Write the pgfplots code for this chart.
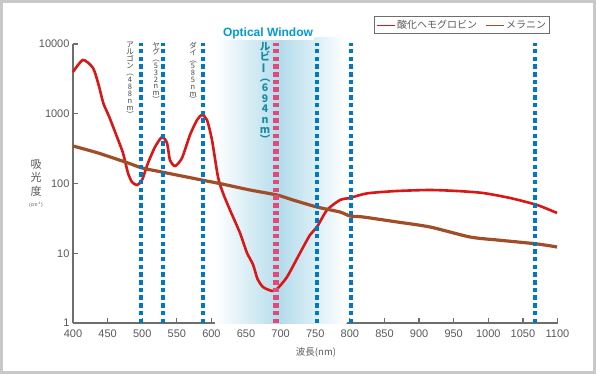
\documentclass[border=0pt]{standalone}
\usepackage{fontspec}
\setmainfont{Liberation Sans}
\newfontfamily\jp{Noto Sans CJK JP}
\usepackage{graphicx}
\usepackage{pgfplots}
\pgfplotsset{compat=1.18}

\definecolor{oxy}{RGB}{218,22,22}
\definecolor{mel}{RGB}{160,78,40}
\definecolor{lblue}{RGB}{0,120,200}
\definecolor{lpink}{RGB}{226,72,122}
\definecolor{owblue}{RGB}{180,220,235}
\definecolor{owtext}{RGB}{0,155,215}
\definecolor{ruby}{RGB}{25,140,165}
\definecolor{axgray}{RGB}{110,110,110}
\definecolor{txtgray}{RGB}{90,90,90}
\definecolor{lblgray}{RGB}{70,70,70}
\definecolor{framegray}{RGB}{200,200,200}

\begin{document}
\begin{tikzpicture}[x=1bp,y=1bp]
\fill[framegray] (0,0) rectangle (596,374);
\fill[white] (3,3) rectangle (593,371);
\begin{axis}[
  at={(73bp,51bp)}, anchor=south west,
  scale only axis, width=484.5bp, height=279bp,
  xmin=400, xmax=1100, ymin=1, ymax=10000,
  ymode=log,
  axis x line*=bottom, axis y line*=left,
  axis line style={axgray, line width=1.8bp},
  tick style={axgray, line width=1.2bp},
  major tick length=5bp, tick align=inside,
  xtick={400,450,...,1100},
  ytick={1,10,100,1000,10000},
  yticklabels={1,10,100,1000,10000},
  yminorticks=false,
  /pgf/number format/assume math mode=true,
  /pgf/number format/set thousands separator={},
  ticklabel style={font=\fontsize{11bp}{13bp}\selectfont, text=txtgray},
  xticklabel style={yshift=-3bp},
  clip=false,
  legend columns=2,
  legend style={at={(0.803,1.068)}, anchor=center, draw=axgray, line width=0.8bp,
    font=\fontsize{10bp}{11bp}\jp, text=txtgray, inner sep=1.5bp,
    /tikz/every even column/.append style={column sep=6bp}},
  legend image code/.code={\draw[#1, line width=1bp] (0bp,0bp) -- (18bp,0bp);},
]
% optical window shading
\fill[left color=white, right color=owblue, draw=none] (axis cs:605,1) rectangle (axis cs:700,12200);
\fill[left color=owblue, right color=white, draw=none] (axis cs:700,1) rectangle (axis cs:795,12200);

\addplot[oxy, line width=2.6bp, smooth, tension=0.4] coordinates {
(400,3970) (414.4,5900) (428.9,4530) (437,2600) (444,1400) (452,920)
(463.6,464) (472.2,274) (479.5,141) (485.2,105) (492.5,95) (499.7,112)
(508.4,197) (518.5,334) (528.6,464) (535.8,381) (540.1,217) (547.4,178)
(557.5,232) (569,496) (579.2,813) (586.4,960) (593.6,813) (600.8,421)
(609.5,124) (616.7,73) (626.8,41.7) (641.3,19.5) (651.4,10.1) (660.1,6.9)
(666.5,4.3) (674.5,3.28) (687.5,2.88) (694.7,3.07) (709.2,4.57) (728,10.1)
(742.4,18.3) (752.5,23.8) (767,41.7) (785.8,58.0) (800.2,62.0) (814.7,68.4)
(829.1,73.1) (868.1,78.1) (915.8,80.7) (954.8,78.1) (992.4,73.1) (1031.4,62.0)
(1070.4,49.2) (1099.3,37.8)
};
\addlegendentry{酸化ヘモグロビン}
\addplot[mel, line width=3.2bp, smooth, tension=0.4] coordinates {
(400,345) (436.1,274) (479.5,197) (499.7,167) (528.6,146) (586.4,112)
(615.3,98.4) (655.7,80.7) (694.7,68.4) (717.9,58.0) (752.5,46.0) (785.8,39.0)
(800.2,34.2) (819,33.1) (868.1,28.1) (915.8,23.8) (973.6,17.1) (1012.6,15.5)
(1070.4,13.6) (1099.3,12.3)
};
\addlegendentry{メラニン}

% laser lines
\addplot[forget plot, lblue, line width=4bp, dash pattern=on 4.5bp off 3.2bp] coordinates {(498,1) (498,10300)};
\addplot[forget plot, lblue, line width=4bp, dash pattern=on 4.5bp off 3.2bp] coordinates {(530,1) (530,10300)};
\addplot[forget plot, lblue, line width=4bp, dash pattern=on 4.5bp off 3.2bp] coordinates {(588,1) (588,10300)};
\addplot[forget plot, lblue, line width=4bp, dash pattern=on 4.5bp off 3.2bp] coordinates {(752,1) (752,10300)};
\addplot[forget plot, lblue, line width=4bp, dash pattern=on 4.5bp off 3.2bp] coordinates {(801,1) (801,10300)};
\addplot[forget plot, lblue, line width=4bp, dash pattern=on 4.5bp off 3.2bp] coordinates {(1068,1) (1068,10300)};
\addplot[forget plot, lpink, line width=6bp, dash pattern=on 4.5bp off 3.2bp] coordinates {(693,1) (693,10300)};
\end{axis}

% texts
\node[fill=white, inner sep=1bp, font=\fontsize{12bp}{14bp}\selectfont\bfseries, text=owtext] at (268,341) {Optical Window};
\node[font=\fontsize{11bp}{13.5bp}\jp, text=txtgray, align=center] at (36,196) {吸\\光\\度};
\node[font=\fontsize{5bp}{6bp}\selectfont, text=txtgray] at (36,169) {(cm\textsuperscript{-1})};
\node[font=\fontsize{9.5bp}{11bp}\jp, text=txtgray] at (316,22) {波長(nm)};

\node[anchor=north, inner sep=0, align=center, font=\fontsize{7.5bp}{7bp}\jp, text=lblgray] at (130,332) {ア\\ル\\ゴ\\ン\\︵\\4\\8\\8\\n\\m\\︶};
\node[anchor=north, inner sep=0, align=center, font=\fontsize{7.5bp}{6.8bp}\jp, text=lblgray] at (156,332) {ヤ\\グ\\︵\\5\\3\\2\\n\\m\\︶};
\node[anchor=north, inner sep=0, align=center, font=\fontsize{7.5bp}{6.8bp}\jp, text=lblgray] at (193,332) {ダ\\イ\\︵\\5\\8\\5\\n\\m\\︶};
\node[anchor=north, inner sep=0, align=center, font=\fontsize{10.5bp}{10.4bp}\jp\bfseries, text=ruby] at (265,332) {ル\\ビ\\\rotatebox[origin=c]{90}{ー}\\︵\\6\\9\\4\\n\\m\\︶};
\end{tikzpicture}
\end{document}
